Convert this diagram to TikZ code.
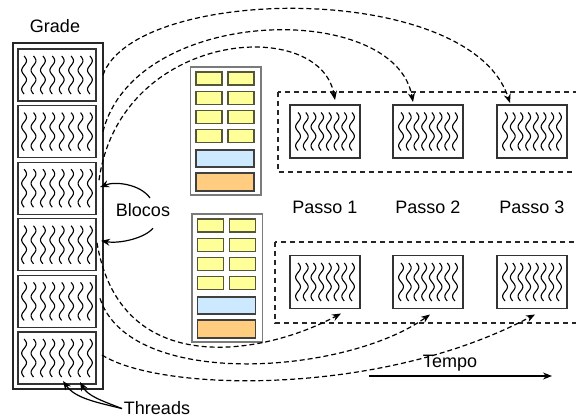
\documentclass[tikz,border=0pt]{standalone}
\usepackage{fontspec}
\setmainfont{Liberation Sans}
\usetikzlibrary{arrows.meta,calc}

\definecolor{cellyellow}{HTML}{FFFF99}
\definecolor{cellblue}{HTML}{CCE9FF}
\definecolor{cellorange}{HTML}{FFCC80}
\definecolor{cellline}{HTML}{55553A}
\definecolor{frameline}{HTML}{7A7A7A}

% eight wavy threads drawn inside a block: #1 node, #2 spacing, #3 height
\newcommand\threadwaves[3]{%
  \begin{scope}[shift={(#1.center)}]
    \foreach \k in {0,...,7} {
      \draw[wave] plot[domain=-1:1,samples=41,smooth]
        ({(\k-3.5)*#2+2.4*sin(360*\x)},{#3/2*\x});
    }
  \end{scope}}

% memory unit: #1 name, #2 top-left corner
\newcommand\memunit[2]{%
  \begin{scope}[shift={#2}]
    \node[memframe,anchor=north west] (#1) at (0,0) {};
    \foreach \r [count=\i] in {0,19.3,38.6,57.9} {
      \node[ycell,anchor=north west] (#1-l\i) at (5.5,5+\r) {};
      \node[ycell,anchor=north west] (#1-r\i) at (37.5,5+\r) {};
    }
    \node[bcell,anchor=north west] (#1-b) at (5.5,83) {};
    \node[ocell,anchor=north west] (#1-o) at (5.5,106) {};
  \end{scope}}

\begin{document}
\begin{tikzpicture}[x=1pt,y=-1pt,
  every node/.style={inner sep=0pt,outer sep=0pt},
  lbl/.style={font=\fontsize{18}{21}\selectfont,anchor=base},
  gridframe/.style={draw=black!85,line width=2pt,minimum width=90pt,minimum height=346pt},
  gblock/.style={draw=black!80,line width=1.1pt,minimum width=78pt,minimum height=52pt},
  sblock/.style={draw=black!80,line width=1.1pt,minimum width=70pt,minimum height=53pt},
  wave/.style={line width=1.1pt,black},
  memframe/.style={draw=frameline,line width=1.1pt,fill=white,minimum width=70.5pt,minimum height=128pt},
  ycell/.style={draw=cellline,line width=1.1pt,fill=cellyellow,minimum width=26pt,minimum height=13pt},
  bcell/.style={draw=black!75,line width=1.1pt,fill=cellblue,minimum width=58pt,minimum height=17pt},
  ocell/.style={draw=black!75,line width=1.1pt,fill=cellorange,minimum width=58pt,minimum height=18pt},
  dashbox/.style={draw=black!85,line width=1.2pt,dash pattern=on 5pt off 4pt},
  flow/.style={draw=black,line width=1.2pt,dash pattern=on 5pt off 3pt,-{Stealth[length=9pt,width=7pt]}},
  pointer/.style={draw=black,line width=1.2pt,-{Stealth[length=9pt,width=7pt]}}
]
\useasboundingbox (0,0) rectangle (576,417);
\clip (0,0) rectangle (576,417);

% grid with its six blocks
\node[gridframe] (grade) at (58,216) {};
\node[lbl] (gradelbl) at (55,33) {Grade};
\foreach \i in {1,...,6} {
  \node[gblock] (g\i) at (57,{75+56.6*(\i-1)}) {};
}
\foreach \i in {1,...,6} {
  \threadwaves{g\i}{9.4}{38}
}

% memory units
\memunit{smA}{(190.5,67)}
\memunit{smB}{(192,214)}

% execution steps
\draw[dashbox] (278,92) rectangle (600,172);
\draw[dashbox] (275,242) rectangle (600,323);
\foreach \x [count=\i] in {325,428,532} {
  \node[sblock] (u\i) at (\x,131.5) {};
  \node[sblock] (l\i) at (\x,282) {};
  \node[lbl] (passo\i) at (\x,213) {Passo \i};
}
\foreach \i in {1,2,3} {
  \threadwaves{u\i}{7.7}{38}
  \threadwaves{l\i}{7.7}{38}
}

% blocks scheduled onto steps
\draw[flow] (grade.east |- g1.east) .. controls (135,-15) and (470,-20) .. ($(u3.north)+(-22,-2)$);
\draw[flow] (grade.east |- g2.east) .. controls (135,5) and (395,0) .. ($(u2.north)+(-15,-3)$);
\draw[flow] ($(g3.east)+(3,-8)$) .. controls (120,30) and (320,15) .. ($(u1.north)+(10,-5)$);
\draw[flow] ($(g4.east)+(1,-2)$) .. controls (120,380) and (262,356) .. ($(l1.south)+(16,5)$);
\draw[flow] ($(g5.east)+(4,-3)$) .. controls (130,390) and (345,375) .. ($(l2.south)+(2,6)$);
\draw[flow] ($(g6.east)+(6,-3)$) .. controls (160,392) and (380,397) .. ($(l3.south)+(3,6)$);

% labels with pointers
\node[lbl] (blocos) at (143,217) {Blocos};
\draw[pointer] ($(blocos.north)+(7,-6)$) .. controls (140,184) and (115,181) .. ($(g3.east)+(4,-1)$);
\draw[pointer] ($(blocos.south)+(10,11)$) .. controls (145,238) and (120,244) .. ($(g4.east)+(5,-4)$);

\node[lbl] (threads) at (157,414) {Threads};
\draw[pointer] ($(threads.west)+(-2,1)$) .. controls (95,402) and (75,398) .. ($(g6.center)+(6,23)$);
\draw[pointer] ($(threads.west)+(-2,1)$) .. controls (100,400) and (88,396) .. ($(g6.center)+(23,24)$);

\node[lbl] (tempo) at (450,367) {Tempo};
\coordinate (t0) at (369,376);
\coordinate (t1) at (552,376);
\draw[pointer] (t0) -- (t1);
\end{tikzpicture}
\end{document}
